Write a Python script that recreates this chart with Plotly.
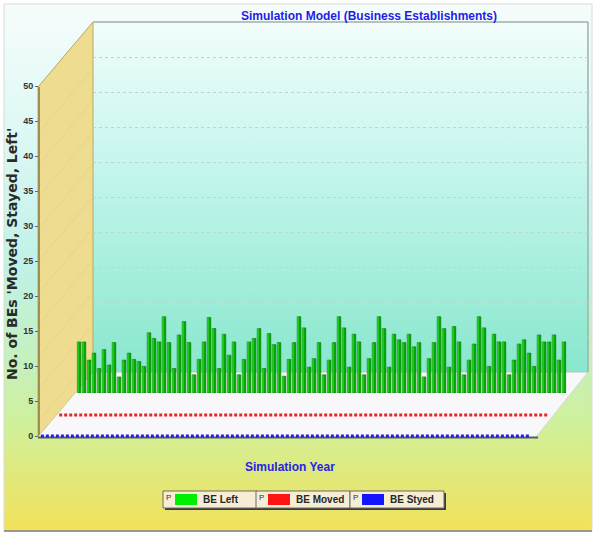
import base64
import plotly.graph_objects as go

W, H = 596, 534

# ---------------- data ----------------
be_left = [7.3, 7.3, 4.7, 5.7, 3.5, 6.2, 4.0, 7.2, 2.3, 4.7,
           5.7, 4.8, 4.5, 3.8, 8.6, 7.8, 7.3, 10.9, 7.2, 3.5,
           8.3, 10.2, 7.2, 2.6, 4.8, 7.3, 10.8, 9.2, 3.5, 8.4,
           5.4, 7.3, 2.6, 4.8, 7.3, 7.8, 9.2, 3.5, 8.5, 6.9,
           7.2, 2.4, 4.8, 7.2, 10.9, 9.3, 3.7, 4.9, 7.2, 2.6,
           4.7, 7.2, 10.9, 9.3, 3.7, 8.4, 7.3, 2.6, 4.9, 7.2,
           10.9, 9.2, 3.7, 8.4, 7.6, 7.2, 8.4, 6.6, 7.2, 2.3,
           4.9, 7.2, 10.9, 9.2, 3.7, 9.5, 7.3, 2.6, 4.7, 7.0,
           10.9, 9.3, 3.8, 8.4, 7.3, 7.3, 2.6, 4.7, 7.0, 7.6,
           5.7, 3.8, 8.3, 7.3, 7.3, 8.3, 4.7, 7.3]
be_moved = [0, 0, 0, 0, 0, 0, 0, 0, 0, 0,
            0, 0, 0, 0, 0, 0, 0, 0, 0, 0,
            0, 0, 0, 0, 0, 0, 0, 0, 0, 0,
            0, 0, 0, 0, 0, 0, 0, 0, 0, 0,
            0, 0, 0, 0, 0, 0, 0, 0, 0, 0,
            0, 0, 0, 0, 0, 0, 0, 0, 0, 0,
            0, 0, 0, 0, 0, 0, 0, 0, 0, 0,
            0, 0, 0, 0, 0, 0, 0, 0, 0, 0,
            0, 0, 0, 0, 0, 0, 0, 0, 0, 0,
            0, 0, 0, 0, 0, 0, 0, 0]
be_styed = [0, 0, 0, 0, 0, 0, 0, 0, 0, 0,
            0, 0, 0, 0, 0, 0, 0, 0, 0, 0,
            0, 0, 0, 0, 0, 0, 0, 0, 0, 0,
            0, 0, 0, 0, 0, 0, 0, 0, 0, 0,
            0, 0, 0, 0, 0, 0, 0, 0, 0, 0,
            0, 0, 0, 0, 0, 0, 0, 0, 0, 0,
            0, 0, 0, 0, 0, 0, 0, 0, 0, 0,
            0, 0, 0, 0, 0, 0, 0, 0, 0, 0,
            0, 0, 0, 0, 0, 0, 0, 0, 0, 0,
            0, 0, 0, 0, 0, 0, 0, 0]
years = list(range(1, len(be_left) + 1))
y_ticks = [0, 5, 10, 15, 20, 25, 30, 35, 40, 45, 50]
series_names = ["BE Left", "BE Moved", "BE Styed"]
series_colors = ["#00ee00", "#ff1414", "#1414ff"]
title_text = "Simulation Model (Business Establishments)"
x_title = "Simulation Year"
y_title = "No. of BEs 'Moved, Stayed, Left'"


def X(px):
    return px / W


def Y(py):
    return 1 - py / H


def grad_uri(stops):
    st = "".join(f'<stop offset="{o}" stop-color="{c}"/>' for o, c in stops)
    svg = ('<svg xmlns="http://www.w3.org/2000/svg" width="100" height="100" '
           'preserveAspectRatio="none"><defs><linearGradient id="g" x1="0" y1="0" '
           f'x2="0" y2="1">{st}</linearGradient></defs>'
           '<rect width="100" height="100" fill="url(#g)"/></svg>')
    return "data:image/svg+xml;base64," + base64.b64encode(svg.encode()).decode()


def img(uri, x0, y0, x1, y1):
    return dict(source=uri, xref="paper", yref="paper", x=X(x0), y=Y(y0),
                sizex=(x1 - x0) / W, sizey=(y1 - y0) / H, xanchor="left",
                yanchor="top", sizing="stretch", layer="below")


def poly(pts, fill, line="rgba(0,0,0,0)", lw=0):
    d = "M " + " L ".join(f"{X(a)},{Y(b)}" for a, b in pts) + " Z"
    return dict(type="path", path=d, xref="paper", yref="paper",
                fillcolor=fill, line=dict(color=line, width=lw), layer="below")


def seg(x0, y0, x1, y1, color, w=1, layer="below"):
    return dict(type="line", xref="paper", yref="paper", x0=X(x0), y0=Y(y0),
                x1=X(x1), y1=Y(y1), line=dict(color=color, width=w), layer=layer)


def rect(x0, y0, x1, y1, fill, line="rgba(0,0,0,0)", lw=0, layer="above"):
    return dict(type="rect", xref="paper", yref="paper", x0=X(x0), y0=Y(y1),
                x1=X(x1), y1=Y(y0), fillcolor=fill,
                line=dict(color=line, width=lw), layer=layer)


fig = go.Figure()

# back-wall grid carrier
fig.add_trace(go.Scatter(x=[], y=[], xaxis="x", yaxis="y", showlegend=False,
                         hoverinfo="skip"))
# BE Left bars (back row)
fig.add_trace(go.Bar(x=years, y=be_left, xaxis="x2", yaxis="y2", width=0.72,
                     name=series_names[0],
                     marker=dict(color="#04a804", line=dict(color="#035f03", width=0.5))))
fig.add_trace(go.Bar(x=years, y=be_left, xaxis="x2", yaxis="y2", width=0.2,
                     offset=-0.3, showlegend=False, hoverinfo="skip",
                     marker=dict(color="#34ec34", line=dict(width=0))))
# BE Moved (middle row)
fig.add_trace(go.Scatter(x=years, y=be_moved, xaxis="x3", yaxis="y3",
                         mode="markers", name=series_names[1], cliponaxis=False,
                         marker=dict(symbol="square", size=3, color="#ee2424",
                                     line=dict(width=0))))
# BE Styed (front row)
fig.add_trace(go.Scatter(x=years, y=be_styed, xaxis="x4", yaxis="y4",
                         mode="markers", name=series_names[2], cliponaxis=False,
                         marker=dict(symbol="square", size=3, color="#2222e6",
                                     line=dict(width=0))))

n = len(years)
pitch = 5.0
first_c = 79.0
dx_row, rows_y = 18.3, [393, 415, 436]


def xdom(shift):
    left = first_c - shift - pitch / 2
    return [X(left), X(left + n * pitch)]


hidden = dict(visible=False, fixedrange=True, automargin=False)
fig.update_layout(
    width=W, height=H, autosize=False,
    margin=dict(l=0, r=0, t=0, b=0, pad=0, autoexpand=False),
    paper_bgcolor="white", plot_bgcolor="rgba(0,0,0,0)",
    showlegend=False, barmode="overlay",
    font=dict(family="Liberation Sans, Arial, sans-serif"),
    title=dict(text=f"<b>{title_text}</b>", x=X(369), y=Y(16), xanchor="center",
               yanchor="middle", font=dict(size=12, color="#1e1ee8")),
    xaxis=dict(domain=[X(93), X(588)], range=[0, 1], **hidden),
    yaxis=dict(domain=[Y(372), Y(22)], range=[0, 50], anchor="x", dtick=5,
               showgrid=True, gridcolor="#c0d3cd", griddash="dot", gridwidth=1,
               showticklabels=False, ticks="", zeroline=False, showline=False,
               fixedrange=True, automargin=False),
    xaxis2=dict(domain=xdom(0), range=[0.5, n + 0.5], anchor="y2", **hidden),
    yaxis2=dict(domain=[Y(rows_y[0]), Y(rows_y[0] - 350)], range=[0, 50],
                anchor="x2", **hidden),
    xaxis3=dict(domain=xdom(dx_row), range=[0.5, n + 0.5], anchor="y3", **hidden),
    yaxis3=dict(domain=[Y(rows_y[1]), Y(rows_y[1] - 350)], range=[0, 50],
                anchor="x3", **hidden),
    xaxis4=dict(domain=xdom(2 * dx_row), range=[0.5, n + 0.5], anchor="y4", **hidden),
    yaxis4=dict(domain=[Y(rows_y[2]), Y(rows_y[2] - 350)], range=[0, 50],
                anchor="free", position=X(38), tickvals=y_ticks, ticks="outside",
                ticklen=3, tickcolor="#666", showticklabels=True,
                tickfont=dict(size=9, color="#333", weight="bold"),
                showgrid=False, zeroline=False, showline=False, fixedrange=True,
                automargin=False),
)

# gradients
bg_uri = grad_uri([(0, "#f6fdfc"), (0.25, "#ddf8f4"), (0.5, "#bff2e6"),
                   (0.68, "#c6f0bc"), (0.8, "#d0f09a"), (1, "#f3e15a")])
wall_uri = grad_uri([(0, "#f2fdfb"), (0.4, "#c6f6ee"), (1, "#88e7cc")])
fig.update_layout(images=[img(bg_uri, 4, 4, 592, 531), img(wall_uri, 93, 22, 588, 372)])

shapes = []
# outer frame
shapes.append(rect(4, 4, 592, 531, "rgba(0,0,0,0)", "#d6dcd6", 1, layer="below"))
shapes.append(seg(4, 531, 592, 531, "#9a9a8a", 2))
# side wall
shapes.append(poly([(38, 437), (38, 87), (93, 22), (93, 372)], "#eedd90", "#b9a766", 1))
for yy in range(130, 437, 32):
    shapes.append(seg(41, yy, 91, yy - 59, "#e3d184", 0.8))
shapes.append(seg(39, 87, 39, 437, "#a08e52", 2))
# floor
shapes.append(poly([(38, 437), (93, 372), (588, 372), (536, 437)], "#f8f8fb"))
shapes.append(seg(536, 437, 588, 372, "#d8d8d8", 1))
shapes.append(seg(38, 437.5, 538, 437.5, "#5c5c5c", 2))
# back wall border
shapes.append(seg(93, 22, 588, 22, "#a3aeab", 1.5))
shapes.append(seg(588, 22, 588, 372, "#a3aeab", 1.5))
shapes.append(seg(93, 372, 588, 372, "#b5c6c0", 1))

# legend boxes
annotations = []
box_x = [163, 256, 350]
box_w = 94
for i, bx in enumerate(box_x):
    shapes.append(rect(bx + 2, 493, bx + box_w + 2, 510, "#3a3a3a"))
    shapes.append(rect(bx, 491, bx + box_w, 508, "#f6eed4", "#6a6a6a", 1))
    shapes.append(rect(bx + 12, 494, bx + 34, 505, series_colors[i]))
    annotations.append(dict(text="P", x=X(bx + 5), y=Y(497), xref="paper",
                            yref="paper", showarrow=False, xanchor="center",
                            yanchor="middle", font=dict(size=8, color="#333")))
    annotations.append(dict(text=f"<b>{series_names[i]}</b>", x=X(bx + 38),
                            y=Y(499.5), xref="paper", yref="paper",
                            showarrow=False, xanchor="left", yanchor="middle",
                            font=dict(size=10, color="#262626")))

annotations.append(dict(text=f"<b>{x_title}</b>", x=X(290), y=Y(467),
                        xref="paper", yref="paper", showarrow=False,
                        xanchor="center", yanchor="middle",
                        font=dict(size=12, color="#2323e8")))
annotations.append(dict(text=f"<b>{y_title}</b>", x=X(12), y=Y(254),
                        xref="paper", yref="paper", showarrow=False,
                        textangle=-90, xanchor="center", yanchor="middle",
                        font=dict(size=14, color="#2a2a2a",
                                  family="DejaVu Sans, sans-serif")))

fig.update_layout(shapes=shapes, annotations=annotations)

post_js = (
    "var gd=document.getElementById('{plot_id}');"
    "gd.style.display='block';"
    "if(gd.parentElement){gd.parentElement.style.display='block';"
    "gd.parentElement.style.height='534px';gd.parentElement.style.overflow='hidden';}"
    "document.documentElement.style.cssText='margin:0;padding:0;height:534px;overflow:hidden';"
    "document.body.style.cssText='margin:0;padding:0;height:534px;overflow:hidden';"
)
fig.write_html("out.html", config={"displayModeBar": False}, post_script=post_js)
